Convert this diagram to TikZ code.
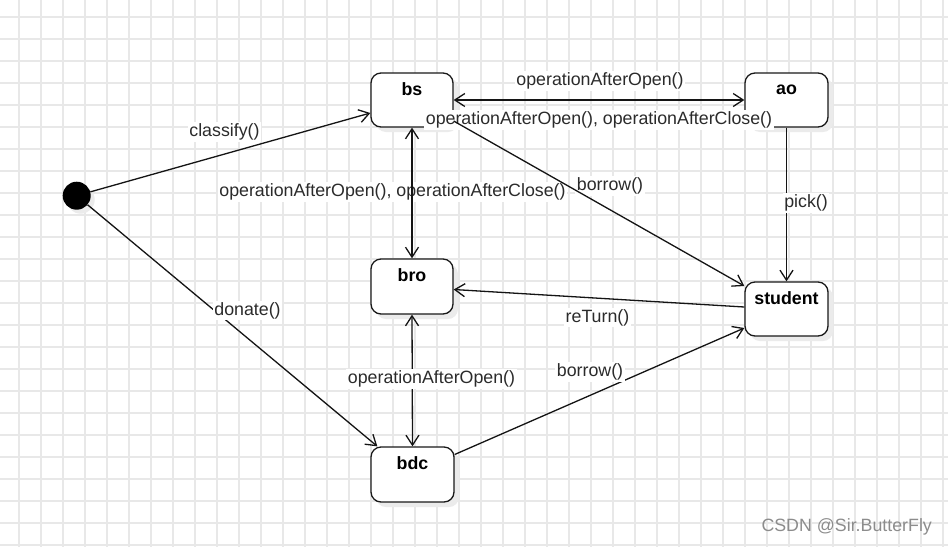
\documentclass[tikz,border=0pt]{standalone}
\usepackage{fontspec}
\setmainfont{Liberation Sans}
\usetikzlibrary{arrows.meta,shadows,calc}
\definecolor{gridc}{HTML}{E8E8E8}
\definecolor{txt}{HTML}{2B2B2B}
\definecolor{shd}{HTML}{EBEBEB}
\definecolor{wm}{HTML}{8C8C8C}
\begin{document}
\begin{tikzpicture}[x=1pt,y=-1pt,
  gridline/.style={draw=gridc,line width=1.2pt},
  state/.style={draw=black!90,line width=1.3pt,rounded corners=10pt,fill=white,
    minimum width=82pt,minimum height=54pt,inner sep=0pt,
    drop shadow={shadow xshift=5pt,shadow yshift=-5pt,fill=shd,opacity=1}},
  stname/.style={anchor=center,yshift=-17pt,font=\fontsize{17.8pt}{20pt}\selectfont\bfseries,text=black},
  initst/.style={circle,fill=black,minimum size=28pt,inner sep=0pt,
    drop shadow={shadow xshift=4pt,shadow yshift=-4pt,fill=shd,opacity=1}},
  conn/.style={draw=black!92,line width=1.3pt},
  lbl/.style={fill=white,inner sep=1.5pt,text=txt,font=\fontsize{17.8pt}{20pt}\selectfont},
  >={Straight Barb[length=10pt,width=13pt]}
]
\useasboundingbox (0,0) rectangle (948,547);
\fill[white] (0,0) rectangle (948,547);
% grid
\foreach \x in {19,41,...,943} \draw[gridline] (\x,0) -- (\x,547);
\foreach \y in {17,39,...,545} \draw[gridline] (0,\y) -- (948,\y);

% nodes
\node[initst] (init) at (76.7,195.7) {};
\node[state,label={[stname]north:bs}] (bs) at (412,100) {};
\node[state,minimum width=83pt,label={[stname]north:ao}] (ao) at (786.5,100) {};
\node[state,minimum height=55pt,label={[stname]north:bro}] (bro) at (412,286.5) {};
\node[state,minimum width=83pt,label={[stname]north:student}] (student) at (786.5,309) {};
\node[state,minimum width=83pt,minimum height=55pt,label={[stname]north:bdc}] (bdc) at (412.5,474.5) {};

% connectors
\draw[conn,->] (init) -- ($(bs.west)+(0,13)$);
\draw[conn,->] (init) -- ($(bdc.north west)+(7,0)$);
\draw[conn,<->] (bs.east) -- (ao.west);
\draw[conn,->] (ao.south) -- (student.north);
\draw[conn,->] ($(student.west)+(0,-2)$) -- ($(bro.east)+(0,3)$);
\draw[conn,<->] (bro.south) -- (bdc.north);
\draw[conn,->] ($(bdc.east)+(0,-20)$) -- ($(student.west)+(0,19)$);

% labels
\node[lbl] (lclassify) at (224.5,131.7) {classify()};
\node[lbl] (ldonate) at (247.5,310.7) {donate()};
\node[lbl] (ltop1) at (600,80.7) {operationAfterOpen()};
\node[lbl] (ltop2) at (599,120) {operationAfterOpen(), operationAfterClose()};
\node[lbl] (lmid) at (392.5,191.7) {operationAfterOpen(), operationAfterClose()};
\node[lbl] (lborrow1) at (610,186) {borrow()};
\node[lbl] (lpick) at (806,203) {pick()};
\node[lbl] (lreturn) at (597.5,317.7) {reTurn()};
\node[lbl] (lopen) at (431.5,379) {operationAfterOpen()};
\node[lbl] (lborrow2) at (590,372) {borrow()};

% connectors drawn over labels
\draw[conn,<->] (bs.south) -- (bro.north);
\draw[conn,->] ($(bs.east)+(0,21)$) -- ($(student.west)+(0,-23)$);

% watermark
\node[text=wm,font=\fontsize{17.8pt}{20pt}\selectfont] (wmark) at (846.7,527.3) {CSDN @Sir.ButterFly};
\end{tikzpicture}
\end{document}
